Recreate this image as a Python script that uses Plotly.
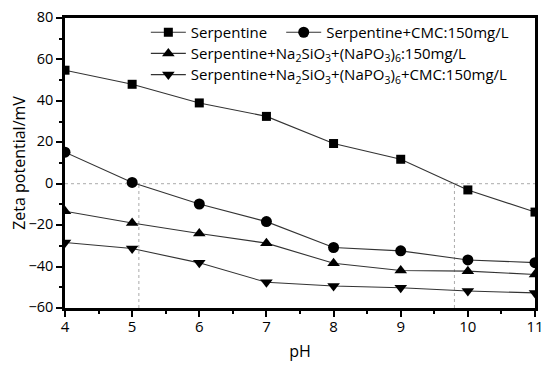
import plotly.graph_objects as go

ph = [4, 5, 6, 7, 8, 9, 10, 11]
serpentine = [54.8, 48.0, 39.0, 32.5, 19.4, 11.8, -3.0, -13.7]
serp_cmc = [15.2, 0.6, -9.8, -18.3, -30.8, -32.4, -36.8, -38.1]
serp_na = [-13.3, -19.0, -24.0, -28.7, -38.4, -41.9, -42.2, -43.8]
serp_na_cmc = [-28.4, -31.3, -38.2, -47.6, -49.4, -50.2, -51.8, -52.7]

names = [
    "Serpentine",
    "Serpentine+CMC:150mg/L",
    "Serpentine+Na<sub>2</sub>SiO<sub>3</sub>+(NaPO<sub>3</sub>)<sub>6</sub>:150mg/L",
    "Serpentine+Na<sub>2</sub>SiO<sub>3</sub>+(NaPO<sub>3</sub>)<sub>6</sub>+CMC:150mg/L",
]
series = [serpentine, serp_cmc, serp_na, serp_na_cmc]
symbols = ["square", "circle", "triangle-up", "triangle-down"]
sizes = [9, 11, 11, 11]
legends = ["legend", "legend2", "legend3", "legend4"]

zero_line_y = 0
iep_x = [5.1, 9.8]

FONT = "Open Sans"

fig = go.Figure()
for nm, ys, sym, sz, lg in zip(names, series, symbols, sizes, legends):
    fig.add_trace(go.Scatter(
        x=ph, y=ys, name=nm, mode="lines+markers",
        line=dict(color="#333333", width=1.1),
        marker=dict(symbol=sym, size=sz, color="black"),
        legend=lg,
    ))

# dotted reference lines
fig.add_shape(type="line", xref="x", yref="y", x0=ph[0], x1=ph[-1], y0=zero_line_y, y1=zero_line_y,
              line=dict(color="#aaaaaa", width=1, dash="dot"), layer="below")
for xv in iep_x:
    fig.add_shape(type="line", xref="x", yref="y", x0=xv, x1=xv, y0=-60, y1=zero_line_y,
                  line=dict(color="#aaaaaa", width=1, dash="dot"), layer="below")

leg_common = dict(font=dict(family=FONT, size=15, color="black"), bgcolor="rgba(0,0,0,0)",
                  xanchor="left", yanchor="middle", itemwidth=35)
fig.update_layout(
    width=542, height=369,
    margin=dict(l=57, r=15, t=8, b=69),
    plot_bgcolor="white", paper_bgcolor="white",
    font=dict(family=FONT, size=14, color="black"),
    showlegend=True,
    legend=dict(x=0.172, y=0.95, **leg_common),
    legend2=dict(x=0.46, y=0.95, **leg_common),
    legend3=dict(x=0.172, y=0.877, **leg_common),
    legend4=dict(x=0.172, y=0.804, **leg_common),
    xaxis=dict(
        range=[4, 11], tickmode="linear", tick0=4, dtick=1, automargin=False,
        showline=True, linewidth=2.5, linecolor="black", mirror=True,
        ticks="outside", ticklen=6, tickwidth=2, tickcolor="black",
        minor=dict(ticks="outside", ticklen=3, tickwidth=2, dtick=0.5, tickcolor="black"),
        showgrid=False, zeroline=False, ticklabelstandoff=-3, ticklabeloverflow="allow",
        title=dict(text="pH", font=dict(family=FONT, size=16), standoff=12),
        tickfont=dict(family=FONT, size=15),
    ),
    yaxis=dict(
        range=[-60, 80], tickmode="linear", tick0=-60, dtick=20, automargin=False,
        showline=True, linewidth=2.5, linecolor="black", mirror=True,
        ticks="outside", ticklen=6, tickwidth=2, tickcolor="black",
        minor=dict(ticks="outside", ticklen=3, tickwidth=2, dtick=10, tickcolor="black"),
        showgrid=False, zeroline=False, ticklabeloverflow="allow", ticklabelshift=-1,
        title=dict(text="Zeta potential/mV", font=dict(family=FONT, size=16), standoff=26),
        tickfont=dict(family=FONT, size=14.5),
    ),
)

fig.write_html("out.html")
